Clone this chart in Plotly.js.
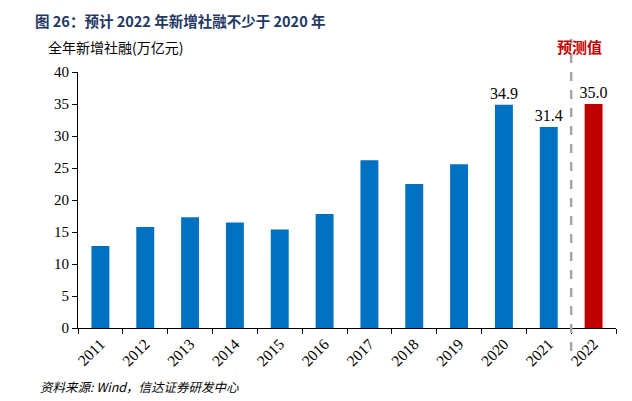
<!DOCTYPE html>
<html><head><meta charset="utf-8">
<script src="https://cdn.plot.ly/plotly-3.0.1.min.js"></script>
<style>body{margin:0;background:#fff}#c{width:632px;height:401px}</style>
</head><body><div id="c"></div>
<script>
const years = ['2011','2012','2013','2014','2015','2016','2017','2018','2019','2020','2021','2022'];
const values = [12.8,15.8,17.3,16.5,15.4,17.8,26.2,22.5,25.6,34.9,31.4,35.0];
const labelYears = ['2020','2021','2022'];
const labelTexts = ['34.9','31.4','35.0'];
const forecastYear = '2022';

const colors = years.map(y => y === forecastYear ? '#C00000' : '#0070C0');
const barText = years.map(y => { const i = labelYears.indexOf(y); return i >= 0 ? labelTexts[i] : ''; });
const serif = 'Liberation Serif, Times New Roman, serif';
const cjk = 'Noto Sans CJK SC, sans-serif';

const annotations = [
  {xref:'paper',yref:'paper',x:-0.084,y:1.2,xanchor:'left',yanchor:'middle',showarrow:false,
   text:'<b>图 26：预计 2022 年新增社融不少于 2020 年</b>',font:{family:cjk,size:14.5,color:'#1F3864'}},
  {xref:'paper',yref:'paper',x:-0.06,y:1.098,xanchor:'left',yanchor:'middle',showarrow:false,
   text:'全年新增社融(万亿元)',font:{family:cjk,size:14,color:'#000'}},
  {xref:'paper',yref:'paper',x:0.933,y:1.098,xanchor:'center',yanchor:'middle',showarrow:false,
   text:'<b>预测值</b>',font:{family:cjk,size:15,color:'#C00000'}},
  {xref:'paper',yref:'paper',x:-0.074,y:-0.23,xanchor:'left',yanchor:'middle',showarrow:false,
   text:'<i>资料来源: Wind，信达证券研发中心</i>',font:{family:cjk,size:12.5,color:'#000'}}
];

Plotly.newPlot('c',[{
  type:'bar', x:years, y:values, width:0.4,
  marker:{color:colors}, hoverinfo:'none',
  text:barText, textposition:'outside', cliponaxis:false, constraintext:'none',
  textfont:{family:serif,size:16,color:'#000'}
}],{
  width:632,height:401,
  margin:{l:78,r:16,t:72,b:73},
  paper_bgcolor:'#fff',plot_bgcolor:'#fff',
  showlegend:false,
  xaxis:{type:'category',tickson:'boundaries',ticks:'outside',ticklen:5,tickcolor:'#000',
    showline:true,linecolor:'#000',linewidth:1,showgrid:false,zeroline:false,
    tickangle:-45,tickfont:{family:serif,size:15.5,color:'#000'},range:[-0.5,11.5]},
  yaxis:{range:[0,40],dtick:5,ticks:'outside',ticklen:5,tickcolor:'#000',
    showline:true,linecolor:'#000',linewidth:1,showgrid:false,zeroline:false,
    tickfont:{family:serif,size:15,color:'#000'}},
  shapes:[{type:'line',xref:'x',yref:'paper',x0:10.5,x1:10.5,y0:-0.09,y1:1.13,
    line:{color:'#A6A6A6',width:2.5,dash:'dash'}}],
  annotations:annotations
},{staticPlot:true});
</script></body></html>
